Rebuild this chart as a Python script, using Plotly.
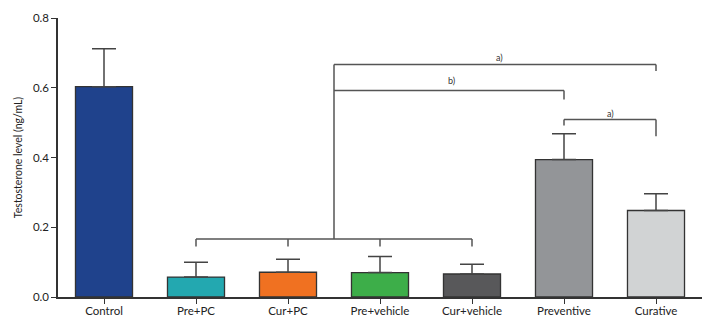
import plotly.graph_objects as go

categories = ["Control", "Pre+PC", "Cur+PC", "Pre+vehicle", "Cur+vehicle", "Preventive", "Curative"]
means = [0.603, 0.057, 0.071, 0.070, 0.066, 0.394, 0.248]
err_upper = [0.109, 0.043, 0.037, 0.046, 0.028, 0.074, 0.048]
colors = ["#1f428c", "#23a8b0", "#f07121", "#3dae49", "#58585a", "#939598", "#d1d3d4"]

# significance brackets (x in category index units, y in data units)
group_low = [1, 2, 3, 4]
low_bar_y, low_tick_y = 0.166, 0.145
stem_x = 2.5
br_top = dict(x0=2.5, x1=6, y=0.667, end=0.648, label="a)", lx=4.3, ly=0.686)
br_mid = dict(x0=2.5, x1=5, y=0.592, end=0.566, label="b)", lx=3.78, ly=0.622)
br_pc = dict(x0=5, x1=6, y=0.509, e0=0.492, e1=0.461, label="a)", lx=5.5, ly=0.527)

line_col = "#555555"
axis_col = "#333333"
font_family = "Lato, 'Open Sans', sans-serif"

fig = go.Figure()
fig.add_trace(go.Bar(
    x=categories, y=means,
    marker=dict(color=colors, line=dict(color="#333333", width=1.3)),
    width=0.62,
    error_y=dict(type="data", array=err_upper, arrayminus=[0] * len(means), symmetric=False,
                 color="#444444", thickness=1.5, width=12),
))

shapes = []
def ln(x0, y0, x1, y1):
    shapes.append(dict(type="line", xref="x", yref="y", x0=x0, y0=y0, x1=x1, y1=y1,
                       line=dict(color=line_col, width=1.5)))

# lower bracket
ln(group_low[0], low_bar_y, group_low[-1], low_bar_y)
for g in group_low:
    ln(g, low_bar_y, g, low_tick_y)
# stem
ln(stem_x, low_bar_y, stem_x, br_top["y"])
# top bracket
ln(br_top["x0"], br_top["y"], br_top["x1"], br_top["y"])
ln(br_top["x1"], br_top["y"], br_top["x1"], br_top["end"])
# mid bracket
ln(br_mid["x0"], br_mid["y"], br_mid["x1"], br_mid["y"])
ln(br_mid["x1"], br_mid["y"], br_mid["x1"], br_mid["end"])
# prev-cur bracket
ln(br_pc["x0"], br_pc["e0"], br_pc["x0"], br_pc["y"])
ln(br_pc["x0"], br_pc["y"], br_pc["x1"], br_pc["y"])
ln(br_pc["x1"], br_pc["y"], br_pc["x1"], br_pc["e1"])

annotations = []
for b in (br_top, br_mid, br_pc):
    annotations.append(dict(x=b["lx"], y=b["ly"], xref="x", yref="y", text=b["label"],
                            showarrow=False, font=dict(size=9, color="#333333", family=font_family)))

fig.update_layout(
    width=721, height=325,
    margin=dict(l=58, r=19, t=18, b=28, autoexpand=False),
    paper_bgcolor="white", plot_bgcolor="white",
    showlegend=False,
    shapes=shapes, annotations=annotations,
    font=dict(family=font_family, size=11, color="#222222"),
    xaxis=dict(range=[-0.5, 6.5], showline=True, linecolor=axis_col, linewidth=1.5,
               ticks="outside", ticklen=5, tickcolor=axis_col, tickwidth=1.3,
               showgrid=False, zeroline=False, tickfont=dict(size=11.5), automargin=False,
               ticklabelstandoff=-3),
    yaxis=dict(range=[0, 0.8], tickvals=[0, 0.2, 0.4, 0.6, 0.8], tickformat=".1f",
               showline=True, linecolor=axis_col, linewidth=1.5,
               ticks="outside", ticklen=5, tickcolor=axis_col, tickwidth=1.3,
               showgrid=False, zeroline=False, tickfont=dict(size=11.5), automargin=False,
               title=dict(text="Testosterone level (ng/mL)", font=dict(size=10.5), standoff=8)),
    bargap=0.38,
)

fig.write_html("out.html", config={"displayModeBar": False},
               post_script="document.body.style.margin='0';document.body.style.padding='0';document.body.style.overflow='hidden';")
